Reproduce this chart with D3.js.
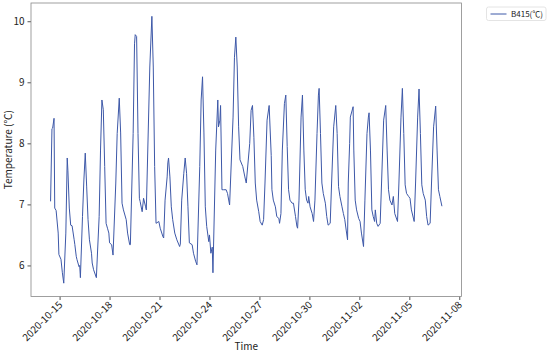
<!DOCTYPE html>
<html><head><meta charset="utf-8">
<script src="https://cdn.jsdelivr.net/npm/d3@7"></script>
<style>body{margin:0;background:#fff}svg{display:block}text{font-family:"Noto Sans CJK SC","DejaVu Sans",sans-serif;}</style>
</head><body>
<script>
const startTime = "2020-10-14 11:00";
const seriesName = "B415(℃)";
const hours = [0,2,3,5,6,8,11,12,15,17,19,22,24,25,27,29,31,34,35,37,38,41,42,43,46,48,50,52,54,56,59,60,62,66,70,72,74,76,78,80,82,84,85,88,90,94,96,99,101,103,105,109,111,114,115,119,121,122,124,126,128,129,132,134,137,138,143,146,148,150,152,156,158,162,163,165,168,169,170,172,174,176,179,182,186,187,189,192,194,196,198,200,204,206,209,211,215,217,219,221,223,225,228,229,231,233,234,238,241,242,244,245,247,249,253,255,258,263,265,267,269,271,273,277,280,282,287,289,291,293,295,297,300,302,305,307,309,312,315,318,319,321,324,326,329,330,332,334,337,339,341,343,345,348,350,353,355,356,358,361,363,365,367,369,371,372,374,377,379,381,384,386,387,389,391,393,396,398,400,403,405,408,411,413,415,417,420,422,424,426,428,429,431,432,436,437,439,441,444,446,448,451,453,456,458,459,461,463,465,467,468,470,472,475,477,480,483,485,487,489,492,494,496,500,502,505,507,509,511,513,516,518,520,524,526,529,531,533,535,537,540,542,544,547,549,552,555,557,559,561,564];
const temps = [7.05,8.24,8.25,8.41,6.94,6.90,6.53,6.18,6.10,5.88,5.71,6.53,7.76,7.55,6.94,6.66,6.65,6.42,6.34,6.15,6.10,5.98,6.00,5.80,6.80,7.40,7.84,7.30,6.75,6.42,6.20,6.04,5.93,5.80,6.80,7.89,8.71,8.55,7.62,6.69,6.61,6.53,6.37,6.34,6.17,7.35,8.16,8.74,8.17,7.02,6.91,6.75,6.53,6.34,6.34,8.16,9.63,9.78,9.75,8.16,7.10,7.05,6.88,7.10,6.96,6.91,9.25,10.08,9.25,7.62,6.69,6.72,6.61,6.47,6.45,7.07,7.45,7.68,7.76,7.45,6.96,6.75,6.53,6.42,6.31,6.35,7.07,7.51,7.76,7.51,6.96,6.37,6.34,6.20,6.07,6.01,7.62,8.71,9.09,8.17,6.96,6.64,6.39,6.50,6.20,6.30,5.88,7.89,8.71,8.27,8.38,8.62,7.24,7.24,7.24,7.18,6.99,8.43,9.41,9.74,9.25,8.27,7.73,7.62,7.45,7.35,8.00,8.54,8.62,8.10,7.35,7.07,6.88,6.72,6.66,6.75,7.35,8.38,8.62,7.80,7.24,7.07,6.96,6.80,6.77,6.69,6.85,7.89,8.65,8.79,7.95,7.24,7.07,7.02,7.02,6.80,6.64,6.61,7.07,8.43,8.79,7.89,7.24,7.07,7.02,7.13,6.96,6.85,6.72,7.07,8.16,8.79,8.90,8.16,7.35,7.18,7.02,6.80,6.66,6.69,7.35,8.27,8.62,8.16,7.29,7.13,6.96,6.85,6.75,6.58,6.42,7.35,8.00,8.43,8.60,7.89,7.07,6.91,6.77,6.72,6.53,6.31,7.07,8.16,8.43,8.50,7.89,6.91,6.80,6.72,6.91,6.69,6.64,6.69,7.35,8.38,8.62,7.89,7.24,7.07,6.99,7.13,6.85,6.72,7.35,8.43,8.90,8.16,7.32,7.18,7.13,7.10,6.91,6.72,7.35,8.43,8.89,8.16,7.32,7.18,7.07,6.80,6.66,6.69,7.35,8.27,8.61,7.89,7.24,7.13,6.97];
const xTickLabels = ["2020-10-15","2020-10-18","2020-10-21","2020-10-24","2020-10-27","2020-10-30","2020-11-02","2020-11-05","2020-11-08"];
const yTicks = [6,7,8,9,10];

const W = 550, H = 353;
const M = {left:31, right:461.5, top:3, bottom:296.5};
const parse = d3.timeParse("%Y-%m-%d %H:%M");
const t0 = parse(startTime);
const data = hours.map((h,i)=>({t:d3.timeHour.offset(t0,h), v:temps[i]}));

const svg = d3.select("body").append("svg").attr("width",W).attr("height",H);

const tExt = d3.extent(data,d=>d.t);
const span = tExt[1]-tExt[0];
const x = d3.scaleTime().domain([new Date(+tExt[0]-0.05*span), new Date(+tExt[1]+0.05*span)]).range([M.left,M.right]);
const vExt = d3.extent(data,d=>d.v);
const vr = vExt[1]-vExt[0];
const y = d3.scaleLinear().domain([vExt[0]-0.05*vr, vExt[1]+0.05*vr]).range([M.bottom,M.top]);

const dParse = d3.timeParse("%Y-%m-%d");
const xAxis = d3.axisBottom(x).tickValues(xTickLabels.map(dParse)).tickFormat(d3.timeFormat("%Y-%m-%d")).tickSize(3.5).tickPadding(2);
const gx = svg.append("g").attr("transform",`translate(0,${M.bottom})`).call(xAxis);
gx.select(".domain").remove();
gx.selectAll(".tick line").attr("stroke","#555");
gx.selectAll(".tick text").attr("font-size",10).attr("fill","#222")
  .attr("text-anchor","end").attr("dy",null).attr("y",0).attr("x",0)
  .attr("transform","translate(3,9) rotate(-45)");

const yAxis = d3.axisLeft(y).tickValues(yTicks).tickFormat(d3.format("d")).tickSize(3.5).tickPadding(3);
const gy = svg.append("g").attr("transform",`translate(${M.left},0)`).call(yAxis);
gy.select(".domain").remove();
gy.selectAll(".tick line").attr("stroke","#555");
gy.selectAll(".tick text").attr("font-size",10).attr("fill","#222");

svg.append("rect").attr("x",M.left).attr("y",M.top).attr("width",M.right-M.left).attr("height",M.bottom-M.top)
  .attr("fill","none").attr("stroke","#888").attr("stroke-width",0.8);

const line = d3.line().x(d=>x(d.t)).y(d=>y(d.v));
svg.append("path").datum(data).attr("d",line).attr("fill","none").attr("stroke","#3d58a8").attr("stroke-width",1).attr("stroke-linejoin","round");

svg.append("text").attr("x",(M.left+M.right)/2).attr("y",350).attr("text-anchor","middle").attr("font-size",10).attr("fill","#222").text("Time");
svg.append("text").attr("transform",`translate(12,${(M.top+M.bottom)/2}) rotate(-90)`).attr("text-anchor","middle").attr("font-size",10).attr("fill","#222").text("Temperature (℃)");

const lg = svg.append("g");
lg.append("rect").attr("x",486.5).attr("y",7).attr("width",59.5).attr("height",13.5).attr("rx",2).attr("fill","#fff").attr("stroke","#ddd").attr("stroke-width",0.8);
lg.append("line").attr("x1",490.5).attr("x2",506.5).attr("y1",14).attr("y2",14).attr("stroke","#3d58a8").attr("stroke-width",1);
lg.append("text").attr("x",511).attr("y",17.3).attr("font-size",8).attr("fill","#222").text(seriesName);
</script>
</body></html>
